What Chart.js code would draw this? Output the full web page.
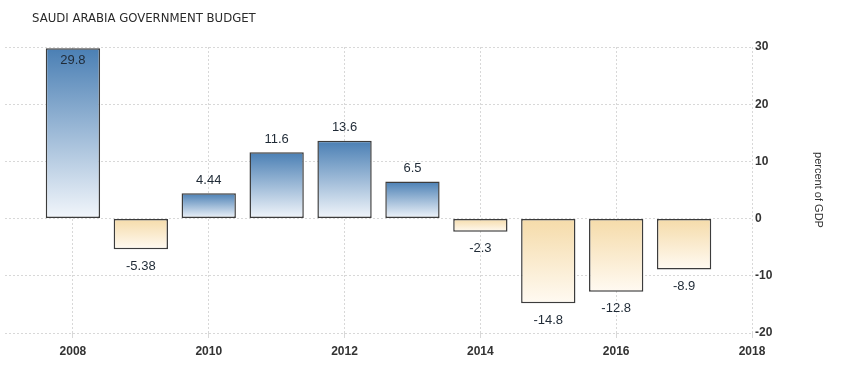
<!DOCTYPE html>
<html>
<head>
<meta charset="utf-8">
<script src="https://cdn.jsdelivr.net/npm/chart.js@4.4.1/dist/chart.umd.min.js"></script>
<style>
  html, body { margin: 0; padding: 0; background: #fff; }
  #wrap { position: relative; width: 849px; height: 373px; }
  #title {
    position: absolute; left: 32px; top: 10px;
    font: 13px "Liberation Sans Narrow", "DejaVu Sans Condensed", sans-serif;
    color: #2a2a2a;
  }
</style>
</head>
<body>
<div id="wrap">
  <canvas id="chart" width="849" height="373"></canvas>
  <div id="title">SAUDI ARABIA GOVERNMENT BUDGET</div>
</div>
<script>
const years = [2008, 2009, 2010, 2011, 2012, 2013, 2014, 2015, 2016, 2017];
const budget = [29.8, -5.38, 4.44, 11.6, 13.6, 6.5, -2.3, -14.8, -12.8, -8.9];
const xTicks = [2008, 2010, 2012, 2014, 2016, 2018];
const yTicks = [-20, -10, 0, 10, 20, 30];

// value labels above / below each bar
const barLabels = {
  id: 'barLabels',
  afterDatasetsDraw(chart) {
    const ctx = chart.ctx;
    const meta = chart.getDatasetMeta(0);
    ctx.save();
    ctx.font = '13px "Liberation Sans", sans-serif';
    ctx.fillStyle = '#1f2a36';
    ctx.textAlign = 'center';
    ctx.textBaseline = 'middle';
    meta.data.forEach((bar, i) => {
      const v = budget[i];
      let y;
      if (v >= 0) {
        y = bar.y - 13;
        if (y < chart.chartArea.top + 5) y = bar.y + 12;
      } else {
        y = bar.y + 17;
      }
      ctx.fillText(String(v), bar.x, y);
    });
    ctx.restore();
  }
};

function barFill(c) {
  const chart = c.chart;
  if (c.type !== 'data' || !chart.chartArea) return '#6f9bc9';
  const v = c.raw.y;
  const y0 = chart.scales.y.getPixelForValue(0);
  const y1 = chart.scales.y.getPixelForValue(v);
  const g = chart.ctx.createLinearGradient(0, Math.min(y0, y1), 0, Math.max(y0, y1));
  if (v >= 0) {
    g.addColorStop(0, '#4a7fb4');
    g.addColorStop(1, '#f2f6fb');
  } else {
    g.addColorStop(0, '#f5dba9');
    g.addColorStop(1, '#fffaf2');
  }
  return g;
}

new Chart(document.getElementById('chart'), {
  type: 'bar',
  data: {
    datasets: [{
      data: years.map((y, i) => ({ x: y, y: budget[i] })),
      backgroundColor: barFill,
      borderColor: '#3c3c3c',
      borderWidth: 1.5,
      borderSkipped: false,
      categoryPercentage: 0.8,
      barPercentage: 1
    }]
  },
  options: {
    responsive: false,
    animation: false,
    layout: { padding: { left: 5, top: 47, right: 0, bottom: 0 } },
    plugins: {
      legend: { display: false },
      tooltip: { enabled: false }
    },
    scales: {
      x: {
        type: 'linear',
        min: 2007,
        max: 2018,
        offset: false,
        afterBuildTicks: s => { s.ticks = xTicks.map(v => ({ value: v })); },
        afterFit: s => { s.height = 40; },
        grid: {
          offset: false,
          color: '#d8d8d8',
          tickLength: 5
        },
        border: { display: false, dash: [2, 2] },
        ticks: {
          callback: v => String(v),
          color: '#333',
          font: { family: 'Liberation Sans', size: 12, weight: 'bold' },
          padding: 6,
          maxRotation: 0,
          autoSkip: false
        }
      },
      y: {
        position: 'right',
        min: -20,
        max: 30,
        afterBuildTicks: s => { s.ticks = yTicks.map(v => ({ value: v })); },
        afterFit: s => { s.width = 97; },
        grid: {
          color: '#d8d8d8',
          drawTicks: false
        },
        border: { display: false, dash: [2, 2] },
        ticks: {
          color: '#333',
          font: { family: 'Liberation Sans', size: 12, weight: 'bold' },
          padding: 3
        },
        title: {
          display: true,
          text: 'percent of GDP',
          color: '#333',
          font: { family: 'Liberation Sans', size: 11 },
          padding: { top: 24, bottom: 0 }
        }
      }
    }
  },
  plugins: [barLabels]
});
</script>
</body>
</html>
